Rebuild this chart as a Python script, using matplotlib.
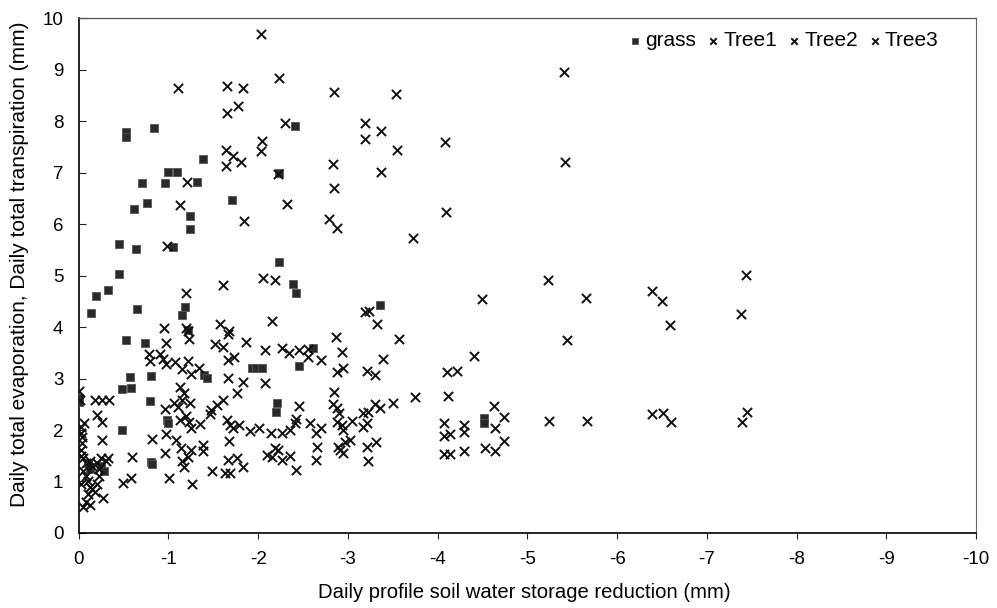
import matplotlib
matplotlib.use('Agg')
import matplotlib.pyplot as plt

plt.rcParams['font.family'] = ['Liberation Sans', 'DejaVu Sans']
plt.rcParams['axes.unicode_minus'] = False

# grass (square markers)
grass_x = [-0.53, -0.53, -0.84, -2.41, -1.39, -2.23, -1.0, -1.1, -0.71, -0.96, -1.32, -0.76,
           -0.62, -1.71, -1.24, -1.24, -0.45, -0.64, -1.05, -2.23, -0.45, -0.33, -0.19, -0.14,
           -2.39, -2.42, -0.65, -1.18, -1.15, -3.36, -0.53, -0.74, -2.61, -1.40, -1.43, -1.93,
           -1.98, -2.04, -2.46, -0.57, -0.81, -0.48, -0.58, 0.0, 0.0, -0.79, -2.21, -2.20,
           -0.98, -1.00, -0.48, -0.81, -0.82, -4.52, -4.52, -0.10, -0.12, -0.25, -0.28, -1.22]
grass_y = [7.79, 7.70, 7.87, 7.90, 7.26, 6.99, 7.01, 7.01, 6.80, 6.80, 6.82, 6.41,
           6.29, 6.47, 6.16, 5.90, 5.61, 5.51, 5.55, 5.26, 5.03, 4.73, 4.60, 4.27,
           4.83, 4.66, 4.35, 4.39, 4.23, 4.43, 3.75, 3.69, 3.59, 3.07, 3.01, 3.20,
           3.20, 3.20, 3.24, 3.03, 3.05, 2.80, 2.82, 2.62, 2.55, 2.56, 2.52, 2.35,
           2.19, 2.14, 2.00, 1.38, 1.34, 2.23, 2.14, 1.35, 1.25, 1.30, 1.20, 3.95]

# Tree1 (upper band)
tree1_x = [-2.03, -1.11, -1.65, -1.83, -2.23, -2.85, -3.54, -1.78, -1.65, -2.30, -3.19, -3.37,
           -3.19, -3.55, -2.04, -2.03, -1.64, -1.72, -1.81, -1.64, -2.83, -2.85, -3.37, -1.21,
           -1.13, -2.32, -1.84, -2.79, -2.88, -0.98, -2.05, -2.19, -5.41, -4.08, -5.42, -4.09,
           -3.72, -5.23, -7.44, -4.49, -5.65, -6.39, -6.50, -1.61, -1.19, -2.22]
tree1_y = [9.69, 8.64, 8.68, 8.64, 8.84, 8.56, 8.52, 8.29, 8.16, 7.96, 7.96, 7.81,
           7.66, 7.44, 7.62, 7.42, 7.44, 7.32, 7.20, 7.13, 7.16, 6.70, 7.01, 6.82,
           6.37, 6.39, 6.06, 6.10, 5.92, 5.57, 4.95, 4.91, 8.95, 7.59, 7.20, 6.23,
           5.73, 4.91, 5.01, 4.54, 4.56, 4.70, 4.50, 4.82, 4.66, 6.98]

# Tree2 (middle band)
tree2_x = [-3.19, -3.24, -7.38, -6.59, -3.32, -2.15, -0.95, -1.19, -1.22, -1.23, -1.57, -1.67,
           -1.66, -0.97, -1.52, -1.61, -1.86, -2.07, -2.27, -2.34, -2.45, -2.55, -2.87, -2.93,
           -3.57, -5.44, -3.39, -4.40, -4.10, -4.21, -0.78, -0.79, -0.91, -0.94, -0.97, -1.07,
           -1.15, -1.22, -1.25, -1.34, -1.66, -1.73, -1.66, -1.83, -2.08, -2.55, -2.70, -2.88,
           -2.94, -3.21, -3.30, -1.76, -2.85, 0.0, -0.01, -0.18, -0.26, -0.34, -1.13, -1.17,
           -1.15, -1.24, -1.06, -1.61, -3.75, -4.12, -3.50, -2.83, -3.30]
tree2_y = [4.29, 4.31, 4.25, 4.04, 4.06, 4.12, 3.98, 3.98, 3.92, 3.77, 4.06, 3.92,
           3.86, 3.69, 3.67, 3.61, 3.71, 3.55, 3.59, 3.49, 3.55, 3.57, 3.81, 3.51,
           3.77, 3.75, 3.38, 3.44, 3.13, 3.15, 3.48, 3.34, 3.48, 3.38, 3.28, 3.32,
           3.18, 3.34, 3.09, 3.20, 3.36, 3.42, 3.01, 2.93, 2.91, 3.42, 3.36, 3.13,
           3.20, 3.15, 3.07, 2.72, 2.74, 2.76, 2.58, 2.58, 2.58, 2.58, 2.84, 2.72,
           2.58, 2.52, 2.52, 2.58, 2.64, 2.66, 2.52, 2.50, 2.50]

# Tree3 (lower band)
tree3_x = [-3.36, -4.63, -4.74, -4.64, -4.07, -4.29, -4.29, -4.07, -4.14, -4.74, -4.07, -4.14,
           -4.29, -4.53, -4.64, -5.24, -5.66, -6.39, -6.51, -6.60, -7.45, -7.39, -1.11, -1.54,
           -1.47, -1.46, -0.96, -2.46, -2.88, -2.90, -3.17, -3.22, -1.13, -1.19, -1.23, -1.25,
           -1.35, -1.65, -1.68, -1.72, -1.79, -1.91, -2.01, -2.14, -2.27, -2.35, -2.41, -2.42,
           -2.58, -2.64, -2.70, -2.88, -2.93, -2.94, -3.04, -3.17, -3.21, -0.06, -0.04, -0.02,
           -0.20, -0.26, -0.26, -0.82, -0.97, -1.08, -1.14, -1.25, -1.22, -1.38, -1.39, -1.67,
           -2.19, -2.22, -2.10, -2.15, -2.26, -2.35, -2.65, -2.64, -2.89, -2.91, -2.94, -3.02,
           -2.97, -3.21, -3.31, -3.22, -2.42, -0.96, -0.59, -1.15, -1.17, -1.48, -1.63, -1.69,
           -1.66, -1.76, -1.83, -1.01, -1.26, -0.49, -0.58, -0.27,
           -0.02, -0.05, -0.08, -0.12, -0.15, -0.20, -0.22, -0.25, -0.30, -0.05, -0.08, -0.10,
           -0.12, -0.15, -0.18, -0.10, -0.08, -0.05, -0.12, -0.20, -0.22, -0.03, -0.33, -0.02,
           -0.02, -0.04]
tree3_y = [2.43, 2.47, 2.25, 2.04, 2.14, 2.10, 1.96, 1.88, 1.92, 1.79, 1.53, 1.53,
           1.59, 1.65, 1.59, 2.17, 2.17, 2.31, 2.33, 2.16, 2.35, 2.16, 2.45, 2.49,
           2.39, 2.31, 2.41, 2.47, 2.43, 2.33, 2.33, 2.35, 2.19, 2.27, 2.16, 2.04,
           2.12, 2.19, 2.10, 2.04, 2.10, 1.98, 2.04, 1.94, 1.94, 2.00, 2.14, 2.21,
           2.14, 1.94, 2.04, 2.16, 2.10, 2.00, 2.17, 2.06, 2.14, 2.14, 1.86, 1.61,
           2.29, 2.16, 1.81, 1.83, 1.92, 1.81, 1.65, 1.61, 1.48, 1.71, 1.59, 1.79,
           1.65, 1.61, 1.51, 1.48, 1.42, 1.50, 1.67, 1.42, 1.67, 1.61, 1.55, 1.81,
           1.77, 1.67, 1.77, 1.40, 1.22, 1.55, 1.48, 1.40, 1.28, 1.20, 1.17, 1.17,
           1.42, 1.46, 1.28, 1.07, 0.95, 0.97, 1.07, 0.68,
           1.50, 1.45, 1.35, 1.40, 1.30, 1.35, 1.25, 1.45, 1.40, 1.20, 1.10, 1.00,
           0.90, 0.85, 0.80, 0.75, 0.60, 0.50, 0.55, 0.95, 1.10, 0.95, 1.45, 2.05,
           1.95, 1.75]

fig = plt.figure(figsize=(9.97, 6.08), dpi=100)
ax = fig.add_axes([0.079, 0.1234, 0.9, 0.8466])

ax.scatter(grass_x, grass_y, marker='s', s=30, c='#2a2a2a', edgecolors='#555555',
           linewidths=0.6, label='grass', zorder=3)
ax.scatter(tree1_x, tree1_y, marker='x', s=44, c='#111111', linewidths=1.4,
           label='Tree1', zorder=3)
ax.scatter(tree2_x, tree2_y, marker='x', s=44, c='#111111', linewidths=1.4,
           label='Tree2', zorder=3)
ax.scatter(tree3_x, tree3_y, marker='x', s=44, c='#111111', linewidths=1.4,
           label='Tree3', zorder=3)

ax.set_xlim(0, -10)
ax.set_ylim(0, 10)
ax.set_xticks(range(0, -11, -1))
ax.set_yticks(range(0, 11))
ax.tick_params(axis='x', direction='out', length=4, labelsize=13.5, pad=9, color='#222222')
ax.tick_params(axis='y', direction='in', length=5, labelsize=13.5, pad=11, color='#222222')

ax.spines['left'].set_linewidth(1.2)
ax.spines['bottom'].set_linewidth(1.2)
ax.spines['top'].set_color('#555555')
ax.spines['right'].set_color('#666666')
ax.spines['top'].set_linewidth(0.9)
ax.spines['right'].set_linewidth(0.8)

ax.set_xlabel('Daily profile soil water storage reduction (mm)', fontsize=14.6)
ax.set_ylabel('Daily total evaporation, Daily total transpiration (mm)', fontsize=15)
ax.xaxis.set_label_coords(0.497, -0.097)
ax.yaxis.set_label_coords(-0.056, 0.522)

leg = ax.legend(loc='upper right', bbox_to_anchor=(0.97, 0.995), ncol=4, frameon=False,
                fontsize=15, handletextpad=0.15, columnspacing=0.45, handlelength=0.7,
                markerscale=0.7, borderaxespad=0.1)

fig.savefig('out.png', dpi=100)
